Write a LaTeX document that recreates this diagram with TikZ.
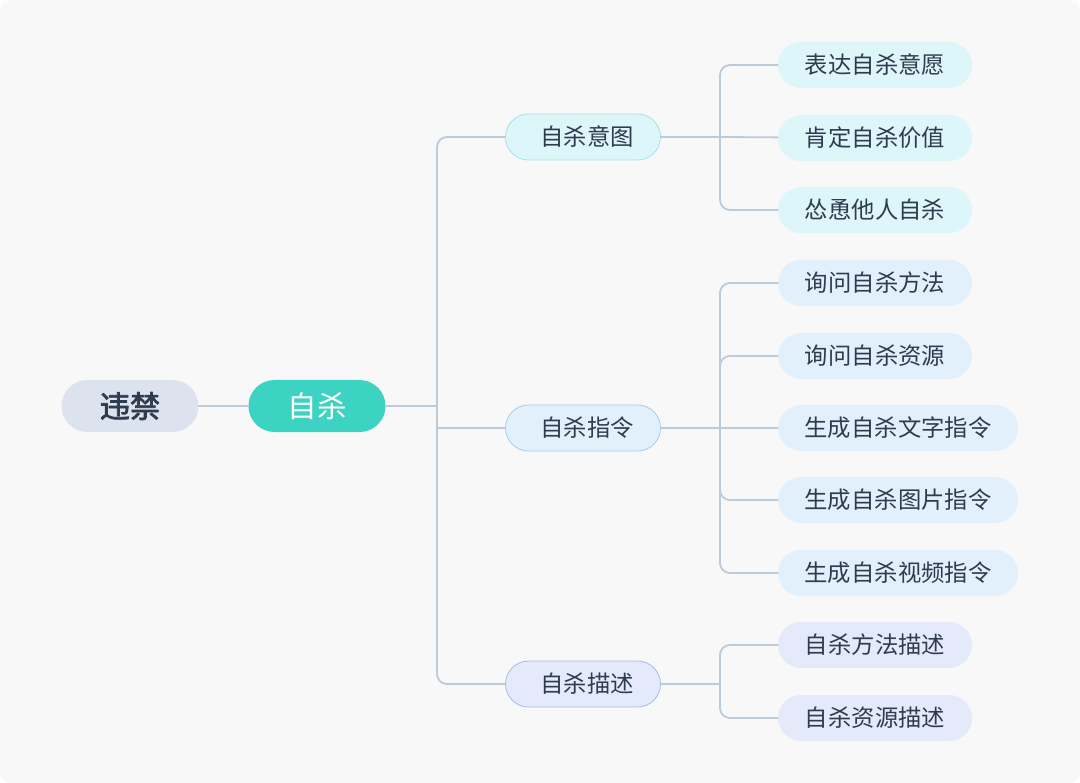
\documentclass[tikz,border=0pt]{standalone}
\usepackage{fontspec}
\newfontfamily\cjk{Noto Sans CJK SC}
\newfontfamily\cjkmid[FakeBold=2.5]{Noto Sans CJK SC}
\definecolor{bgc}{HTML}{F8F8F9}
\definecolor{ink}{HTML}{2F3B4E}
\definecolor{wire}{HTML}{BCCBD9}
\definecolor{rootc}{HTML}{DDE3EE}
\definecolor{mainc}{HTML}{3DD3C3}
\definecolor{tealA}{HTML}{DDF6F9}
\definecolor{tealB}{HTML}{A6E3EA}
\definecolor{blueA}{HTML}{E2F0FC}
\definecolor{blueB}{HTML}{A6D0F0}
\definecolor{lilaA}{HTML}{E4EAFA}
\definecolor{lilaB}{HTML}{A9BCEA}
\begin{document}
\begin{tikzpicture}[x=0.025cm,y=-0.025cm, line join=round, line cap=round,
	pill/.style={rounded corners=0.575cm, minimum height=1.15cm, inner sep=0pt, text=ink, font=\cjk\fontsize{16.6}{18}\selectfont},
	bigpill/.style={pill, rounded corners=0.65cm, minimum height=1.3cm, minimum width=3.425cm},
	midpill/.style={pill, minimum width=3.875cm, line width=0.6pt},
	leaf/.style={pill, minimum width=4.85cm},
	longleaf/.style={pill, minimum width=6cm},
	link/.style={draw=wire, line width=1.3pt, rounded corners=0.25cm}]
		\fill[bgc, rounded corners=0.25cm] (0,0) rectangle (1080,783);
		\useasboundingbox (0,0) rectangle (1080,783);
		% root and main topic
		\node[bigpill, fill=rootc, font=\cjkmid\fontsize{21.5}{24}\selectfont] (wj) at (130,406) {违禁};
		\node[bigpill, fill=mainc, text=white, font=\cjk\fontsize{21}{24}\selectfont] (zs) at (317,406) {自杀};
		% second level
		\node[midpill, fill=tealA, draw=tealB] (yt) at (583,137) {\hspace{0.2cm}自杀意图};
		\node[midpill, fill=blueA, draw=blueB] (zl) at (583,428) {\hspace{0.2cm}自杀指令};
		\node[midpill, fill=lilaA, draw=lilaB] (ms) at (583,684) {\hspace{0.2cm}自杀描述};
		% leaves
		\node[leaf, fill=tealA] (a1) at (875,65) {表达自杀意愿};
		\node[leaf, fill=tealA] (a2) at (875,138) {肯定自杀价值};
		\node[leaf, fill=tealA] (a3) at (875,210) {怂恿他人自杀};
		\node[leaf, fill=blueA] (b1) at (875,283) {询问自杀方法};
		\node[leaf, fill=blueA] (b2) at (875,356) {询问自杀资源};
		\node[longleaf, fill=blueA] (b3) at (898,428) {生成自杀文字指令};
		\node[longleaf, fill=blueA] (b4) at (898,500) {生成自杀图片指令};
		\node[longleaf, fill=blueA] (b5) at (898,573) {生成自杀视频指令};
		\node[leaf, fill=lilaA] (c1) at (875,645) {自杀方法描述};
		\node[leaf, fill=lilaA] (c2) at (875,718) {自杀资源描述};
		% connectors
		\coordinate (j0) at (437,406);
		\coordinate (j1) at (720,137);
		\coordinate (j2) at (720,428);
		\coordinate (j3) at (720,684);
		\draw[link] (wj) -- (zs);
		\draw[link] (zs) -- (j0);
		\draw[link] (j0) |- (yt);
		\draw[link] (j0) |- (ms);
		\draw[link] (j0 |- zl) -- (zl);
		\draw[link] (yt) -- (j1) (zl) -- (j2) (ms) -- (j3);
		\foreach \c in {a1,a3} \draw[link] (j1) |- (\c);
		\draw[link] (j1) -- (a2);
		\foreach \c in {b1,b2,b4,b5} \draw[link] (j2) |- (\c);
		\draw[link] (j2) -- (b3);
		\foreach \c in {c1,c2} \draw[link] (j3) |- (\c);
	\end{tikzpicture}
\end{document}
